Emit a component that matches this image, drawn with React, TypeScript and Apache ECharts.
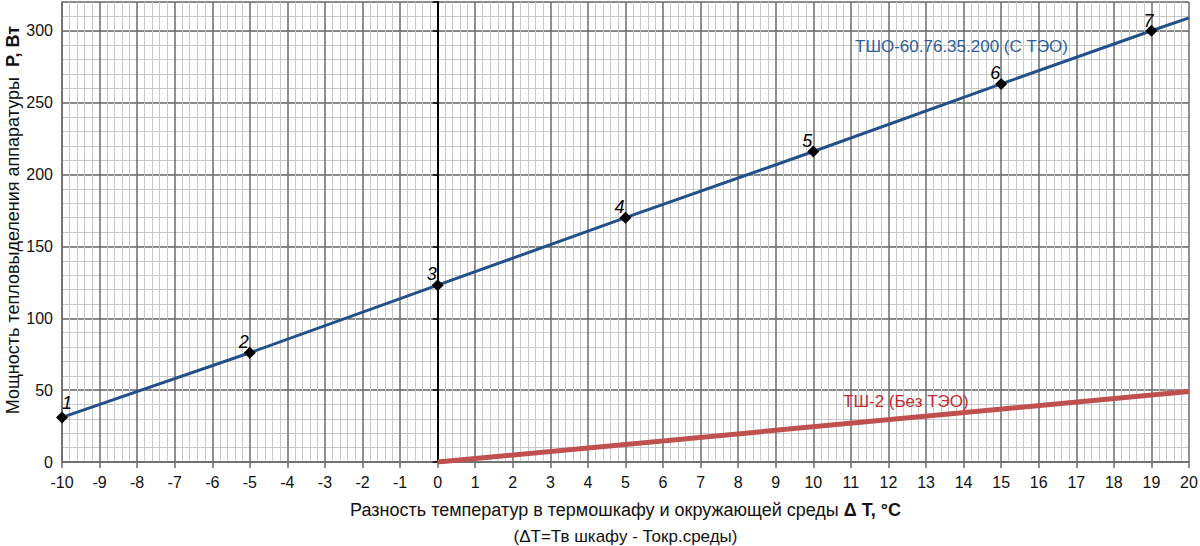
import { useEffect, useRef } from 'react';
import * as echarts from 'echarts';

// ТШО-60.76.35.200 (с ТЭО): measured points 1..7
const pointNumbers = ['1', '2', '3', '4', '5', '6', '7'];
const tshoDeltaT = [-10, -5, 0, 5, 10, 15, 19];
const tshoPower = [31, 76, 123, 170, 216, 263, 300];
// line continues to the right edge of the chart
const tshoEndDeltaT = 20;
const tshoEndPower = 309;

// ТШ-2 (без ТЭО)
const tsh2DeltaT = [0, 20];
const tsh2Power = [0, 49];

const FONT = '"Liberation Sans", Arial, sans-serif';
const BLUE = '#24508a';
const RED = '#c0504d';
const MAJOR = '#6b6b6b';
const MINOR = '#c8c8c8';

export default function App() {
  const chartRef = useRef<HTMLDivElement>(null);

  useEffect(() => {
    if (!chartRef.current) return;
    const chart = echarts.init(chartRef.current, undefined, { renderer: 'svg' });

    const tshoData: any[] = tshoDeltaT.map((x, i) => ({
      value: [x, tshoPower[i]],
      label: { offset: i === 0 ? [5, 1] : i === 6 ? [-3, 5] : [-6, 4] },
      name: pointNumbers[i],
    }));
    tshoData.push({ value: [tshoEndDeltaT, tshoEndPower], symbol: 'none', label: { show: false } });

    chart.setOption({
      animation: false,
      textStyle: { fontFamily: FONT },
      grid: { left: 62, right: 11, top: 2, bottom: 84, outerBoundsMode: 'none', containLabel: false },
      xAxis: {
        type: 'value',
        min: -10,
        max: 20,
        interval: 1,
        name: 'Разность температур в термошкафу и окружающей среды {b|Δ T, °C}\n{s|(ΔT=Тв шкафу - Токр.среды)}',
        nameLocation: 'middle',
        nameGap: 35,
        nameMoveOverlap: false,
        nameTextStyle: {
          fontSize: 18,
          color: '#111',
          lineHeight: 26,
          rich: {
            b: { fontSize: 18, fontWeight: 'bold', color: '#111', lineHeight: 26 },
            s: { fontSize: 17, color: '#111', lineHeight: 26 },
          },
        },
        axisLine: { onZero: false, lineStyle: { color: MAJOR, width: 1.5 } },
        axisTick: { show: true, length: 6, lineStyle: { color: MAJOR, width: 1.5 } },
        axisLabel: { fontSize: 16, color: '#111', margin: 12 },
        splitLine: { show: true, lineStyle: { color: MAJOR, width: 1.5 } },
        minorTick: { show: false, splitNumber: 5 },
        minorSplitLine: { show: true, lineStyle: { color: MINOR, width: 1 } },
      },
      yAxis: [
        {
          // minor grid every 10 W
          type: 'value',
          position: 'left',
          min: 0,
          max: 320,
          interval: 10,
          axisLine: { show: false, onZero: false },
          axisTick: { show: false },
          axisLabel: { show: false },
          splitLine: { show: true, lineStyle: { color: MINOR, width: 1 } },
        },
        {
          // major grid every 50 W, labels
          type: 'value',
          position: 'left',
          min: 0,
          max: 320,
          interval: 50,
          name: 'Мощность тепловыделения аппаратуры  {b|P, Вт}',
          nameLocation: 'middle',
          nameGap: 40,
          nameMoveOverlap: false,
          nameTextStyle: {
            fontSize: 18,
            color: '#111',
            padding: [0, 0, 0, 24],
            rich: { b: { fontSize: 18, fontWeight: 'bold', color: '#111' } },
          },
          axisLine: { show: true, onZero: false, lineStyle: { color: MAJOR, width: 1.5 } },
          axisTick: { show: false },
          axisLabel: { fontSize: 16, color: '#111', margin: 9, showMaxLabel: false },
          splitLine: { show: true, lineStyle: { color: MAJOR, width: 1.5 } },
        },
        {
          // bold ΔT = 0 line
          type: 'value',
          position: 'left',
          min: 0,
          max: 320,
          interval: 50,
          axisLine: { show: true, onZero: true, lineStyle: { color: '#000', width: 2 } },
          axisTick: { show: true, length: 5, lineStyle: { color: '#000', width: 1.5 } },
          axisLabel: { show: false },
          splitLine: { show: false },
        },
      ],
      graphic: [
        {
          type: 'text',
          left: 855,
          top: 38,
          z: 10,
          style: { text: 'ТШО-60.76.35.200 (С ТЭО)', fill: '#2f5d9a', font: `17px ${FONT}` },
        },
        {
          type: 'text',
          left: 843,
          top: 393,
          z: 10,
          style: { text: 'ТШ-2 (Без ТЭО)', fill: '#c62a2f', font: `17px ${FONT}` },
        },
      ],
      series: [
        {
          name: 'ТШ-2 (Без ТЭО)',
          type: 'line',
          yAxisIndex: 1,
          data: tsh2DeltaT.map((x, i) => [x, tsh2Power[i]]),
          symbol: 'none',
          lineStyle: { color: RED, width: 5 },
          z: 3,
        },
        {
          name: 'ТШО-60.76.35.200 (С ТЭО)',
          type: 'line',
          yAxisIndex: 1,
          data: tshoData,
          symbol: 'diamond',
          symbolSize: 12,
          itemStyle: { color: '#000' },
          lineStyle: { color: BLUE, width: 3 },
          label: {
            show: true,
            position: 'top',
            distance: 0,
            formatter: (p: any) => p.name,
            fontSize: 18,
            fontStyle: 'italic',
            color: '#000',
          },
          z: 4,
        },
      ],
    });

    return () => chart.dispose();
  }, []);

  return (
    <div
      ref={chartRef}
      style={{ position: 'fixed', left: 0, top: 0, width: 1200, height: 546, background: '#fff' }}
    />
  );
}
